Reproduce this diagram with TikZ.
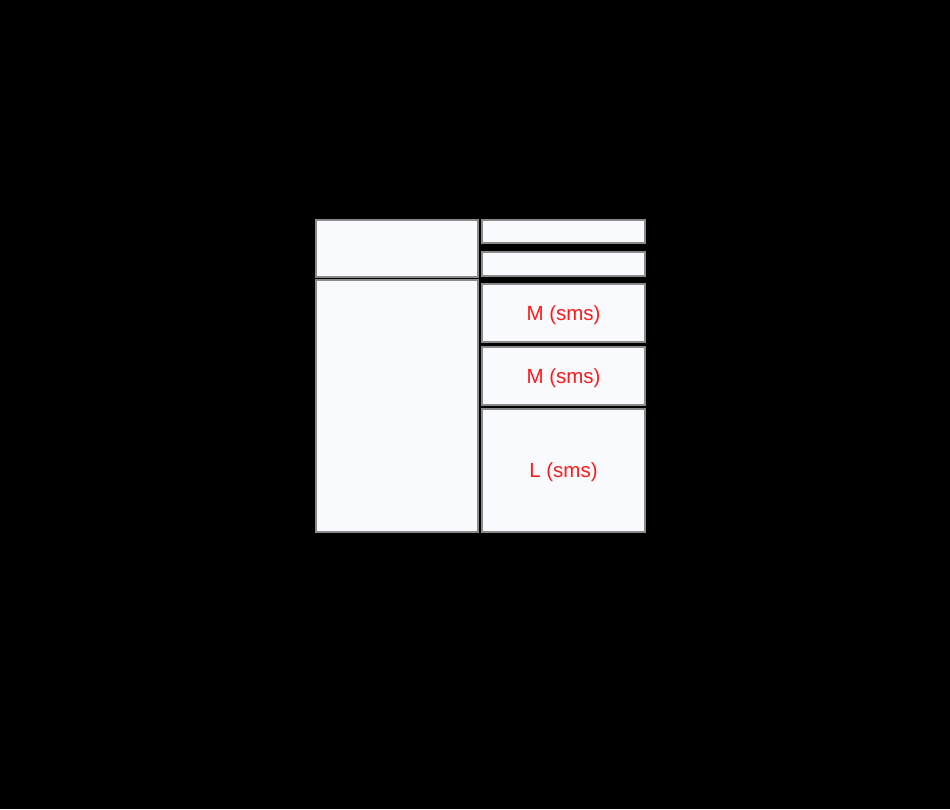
\documentclass[tikz,border=0pt]{standalone}
\usepackage{fontspec}
\setmainfont{Liberation Sans}
\definecolor{boxfill}{HTML}{F8FAFE}
\definecolor{boxedge}{HTML}{8A8A8A}
\definecolor{labelred}{HTML}{FF1A1A}
\begin{document}
\begin{tikzpicture}[x=1pt,y=-1pt,
  panel/.style={draw=boxedge, fill=boxfill, line width=1.3pt, rectangle, inner sep=0pt, outer sep=0pt,
    text=labelred, text depth=0pt, font=\fontsize{20.5}{24}\selectfont},
]
\fill[black] (0,0) rectangle (950,809);
\useasboundingbox (0,0) rectangle (950,809);
% left column
\node[panel, minimum width=162pt, minimum height=57pt] (lt) at (397,248.5) {};
\node[panel, minimum width=162pt, minimum height=252pt] (lb) at (397,406) {};
% right column
\node[panel, minimum width=163pt, minimum height=23pt] (r1) at (563.5,231.5) {};
\node[panel, minimum width=163pt, minimum height=24pt] (r2) at (563.5,264) {};
\node[panel, minimum width=163pt, minimum height=58pt] (r3) at (563.5,313) {M (sms)};
\node[panel, minimum width=163pt, minimum height=58pt] (r4) at (563.5,376) {M (sms)};
\node[panel, minimum width=163pt, minimum height=123pt] (r5) at (563.5,470.5) {L (sms)};
\end{tikzpicture}
\end{document}
